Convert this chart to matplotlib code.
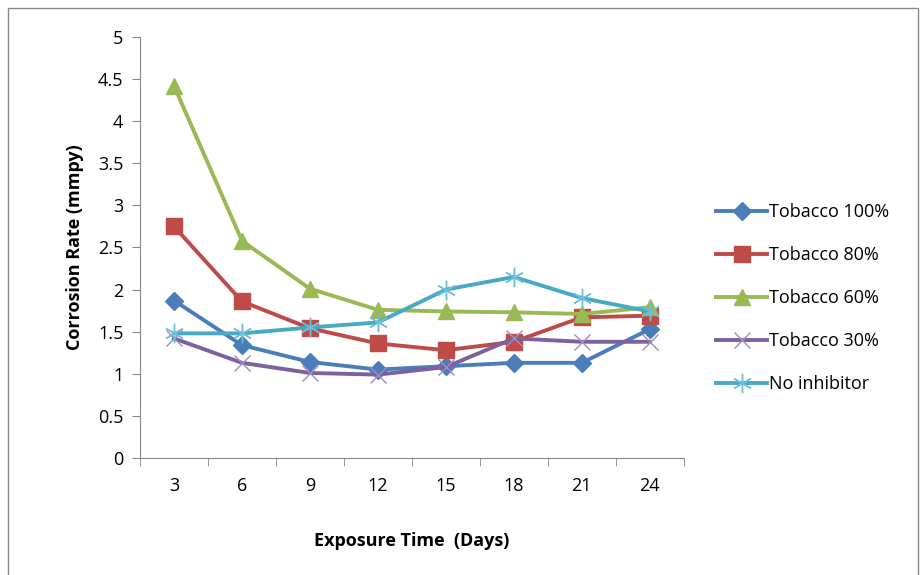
import numpy as np
import matplotlib.pyplot as plt
from matplotlib.patches import Rectangle
from matplotlib.ticker import FixedLocator, NullFormatter

plt.rcParams['font.family'] = ['Open Sans', 'DejaVu Sans']

days = ['3', '6', '9', '12', '15', '18', '21', '24']
tobacco100 = [1.87, 1.34, 1.14, 1.05, 1.09, 1.13, 1.13, 1.53]
tobacco80 = [2.75, 1.86, 1.54, 1.36, 1.28, 1.38, 1.67, 1.69]
tobacco60 = [4.42, 2.58, 2.01, 1.76, 1.74, 1.73, 1.71, 1.79]
tobacco30 = [1.42, 1.13, 1.01, 0.99, 1.08, 1.42, 1.38, 1.38]
no_inhibitor = [1.48, 1.48, 1.55, 1.61, 2.0, 2.15, 1.9, 1.74]

fig = plt.figure(figsize=(9.24, 5.75), dpi=100)
ax = fig.add_axes([0.1515, 0.2035, 0.5885, 0.7322])

x = np.arange(len(days))
ax.plot(x, tobacco100, color='#4A7EBB', lw=2.8, marker='D', ms=9, label='Tobacco 100%')
ax.plot(x, tobacco80, color='#BE4B48', lw=2.8, marker='s', ms=11, label='Tobacco 80%')
ax.plot(x, tobacco60, color='#98B954', lw=2.8, marker='^', ms=12, label='Tobacco 60%')
ax.plot(x, tobacco30, color='#7D60A0', lw=2.8, marker='x', ms=12, mew=1.0,
        mec='#A08CC0', label='Tobacco 30%')
ax.plot(x, no_inhibitor, color='#46AAC5', lw=2.8, marker=(6, 2, 0), ms=14, mew=1.0,
        mec='#6FBFD8', label='No inhibitor')

ax.set_xlim(-0.5, len(days) - 0.5)
ax.set_ylim(0, 5)
ax.set_yticks(np.arange(0, 5.01, 0.5))
ax.set_yticklabels(['0', '0.5', '1', '1.5', '2', '2.5', '3', '3.5', '4', '4.5', '5'])
ax.set_xticks(x)
ax.set_xticklabels(days)
ax.xaxis.set_minor_locator(FixedLocator(np.arange(-0.5, len(days), 1)))
ax.xaxis.set_minor_formatter(NullFormatter())
ax.tick_params(axis='x', which='major', length=0, pad=14, labelsize=13)
ax.tick_params(axis='x', which='minor', length=6, color='#888888', direction='out')
ax.tick_params(axis='y', length=6, color='#888888', labelsize=13, pad=6)

for s in ['top', 'right']:
    ax.spines[s].set_visible(False)
for s in ['left', 'bottom']:
    ax.spines[s].set_color('#888888')

ax.set_xlabel('Exposure Time  (Days)', fontsize=13, fontweight='bold', labelpad=26)
ax.set_ylabel('Corrosion Rate (mmpy)', fontsize=13, fontweight='bold', labelpad=10)

ax.legend(loc='center left', bbox_to_anchor=(1.03, 0.38), frameon=False,
          fontsize=13, handlelength=2.8, handletextpad=0.1, labelspacing=1.38)

fig.patches.append(Rectangle((0.009, -0.01), 0.985, 0.996, transform=fig.transFigure,
                             fill=False, edgecolor='#888888', lw=1.0))

fig.savefig('out.png', dpi=100)
